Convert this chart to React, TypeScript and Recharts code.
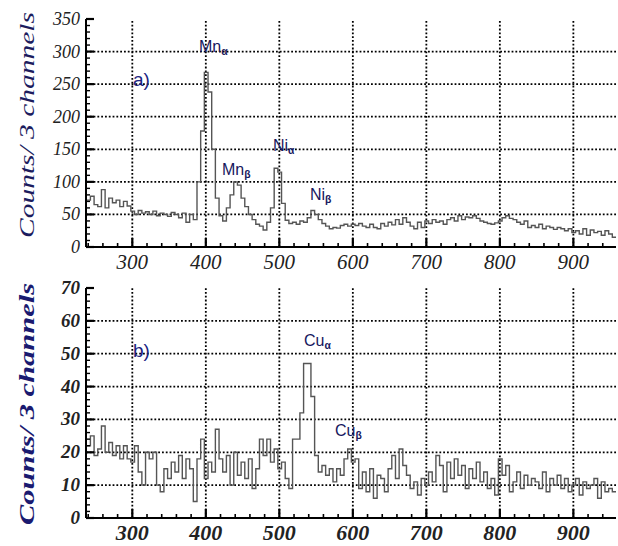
import React from 'react';
import { LineChart, Line, XAxis, YAxis, ReferenceLine } from 'recharts';

const BIN_START = 238;
const BIN_WIDTH = 5;

// panel a) counts per bin (bins start at 238 channels, 5 channels wide)
const topCounts = [
  72, 78, 65, 62, 88, 60, 75, 68, 72, 62, 70, 63,
  55, 50, 56, 52, 54, 50, 55, 48, 52, 50, 47, 53,
  50, 45, 52, 38, 50, 42, 100, 178, 268, 238, 150, 75,
  48, 40, 60, 80, 100, 95, 75, 62, 50, 42, 35, 32,
  26, 38, 60, 121, 115, 67, 41, 36, 38, 35, 40, 38,
  45, 56, 50, 42, 36, 32, 28, 30, 29, 33, 35, 32,
  35, 33, 36, 32, 30, 35, 30, 28, 36, 32, 38, 34,
  42, 35, 45, 38, 32, 28, 38, 30, 40, 36, 42, 38,
  40, 35, 42, 45, 40, 48, 42, 46, 45, 48, 44, 40,
  38, 36, 35, 37, 40, 45, 48, 44, 42, 38, 35, 40,
  30, 33, 30, 35, 28, 32, 30, 27, 30, 28, 25, 28,
  22, 25, 20, 28, 18, 26, 22, 24, 18, 25, 20, 15,
];

// panel b) counts per bin
const bottomCounts = [
  22, 25, 19, 21, 28, 20, 23, 19, 22, 18, 22, 18,
  17, 22, 14, 10, 20, 18, 20, 10, 8, 15, 12, 17,
  14, 19, 12, 18, 15, 5, 18, 24, 12, 17, 14, 27,
  18, 14, 19, 10, 20, 13, 17, 12, 18, 9, 15, 24,
  19, 24, 17, 21, 15, 17, 12, 9, 24, 24, 32, 47,
  47, 37, 19, 14, 16, 13, 15, 11, 15, 13, 18, 21,
  17, 18, 9, 14, 8, 15, 6, 13, 12, 8, 15, 19,
  12, 21, 16, 13, 9, 11, 7, 12, 10, 14, 11, 19,
  16, 8, 17, 12, 18, 13, 16, 9, 15, 12, 17, 11,
  14, 9, 12, 7, 18, 13, 16, 8, 11, 14, 9, 13,
  10, 12, 11, 9, 14, 8, 12, 10, 13, 9, 12, 8,
  10, 12, 7, 11, 9, 10, 12, 6, 11, 8, 9, 8,
];

const xLabels = [300, 400, 500, 600, 700, 800, 900];
const xTicks = [
  240, 260, 280, 300, 320, 340, 360, 380, 400, 420, 440, 460, 480, 500, 520, 540, 560, 580,
  600, 620, 640, 660, 680, 700, 720, 740, 760, 780, 800, 820, 840, 860, 880, 900, 920, 940,
];
const topYLabels = [0, 50, 100, 150, 200, 250, 300, 350];
const bottomYLabels = [0, 10, 20, 30, 40, 50, 60, 70];

const X_DOMAIN: [number, number] = [237, 958];

function range(a: number, b: number, s: number) {
  const out: number[] = [];
  for (let v = a; v <= b + 1e-9; v += s) out.push(v);
  return out;
}

function toRows(counts: number[]) {
  const rows = counts.map((c, i) => ({ ch: BIN_START + i * BIN_WIDTH, v: c }));
  rows.push({ ch: BIN_START + counts.length * BIN_WIDTH, v: counts[counts.length - 1] });
  return rows;
}

const SERIF = '"Liberation Serif", "DejaVu Serif", serif';
const SANS = '"Liberation Sans", Arial, sans-serif';
const NAVY = '#17175e';

type PanelProps = {
  counts: number[];
  yMax: number;
  yMinorStep: number;
  yLabels: number[];
  height: number;
  marginTop: number;
  xAxisHeight: number;
  bold: boolean;
};

function Panel(p: PanelProps) {
  const data = toRows(p.counts);
  const yTicks = range(0, p.yMax, p.yMinorStep);
  const yMajor = p.yLabels[1] - p.yLabels[0];
  const isYMajor = (v: number) => Math.abs(v / yMajor - Math.round(v / yMajor)) < 1e-6;
  const isXMajor = (v: number) => v % 100 === 0;
  const weight = p.bold ? 'bold' : 'normal';

  const bottomTick = (t: any) => {
    const v = t.payload.value;
    const maj = isXMajor(v);
    return (
      <g>
        <line x1={t.x} x2={t.x} y1={t.y} y2={t.y - (maj ? 9 : 4)} stroke="#000" strokeWidth={maj ? 2.2 : 1.6} />
        {maj && (
          <text x={t.x} y={t.y + 22} textAnchor="middle" fontFamily={SERIF} fontStyle="italic"
            fontWeight={weight} fontSize={p.bold ? 22 : 21} fill="#222">{v}</text>
        )}
      </g>
    );
  };
  const topTick = (t: any) => {
    const v = t.payload.value;
    const maj = isXMajor(v);
    return <line x1={t.x} x2={t.x} y1={t.y} y2={t.y + (maj ? 9 : 4)} stroke="#000" strokeWidth={maj ? 2.2 : 1.6} />;
  };
  const leftTick = (t: any) => {
    const v = t.payload.value;
    const maj = isYMajor(v);
    return (
      <g>
        <line x1={t.x} x2={t.x + (maj ? 8 : 4)} y1={t.y} y2={t.y} stroke="#000" strokeWidth={maj ? 2.2 : 1.4} />
        {maj && (
          <text x={t.x - 6} y={t.y + 6} textAnchor="end" fontFamily={SERIF} fontStyle="italic"
            fontWeight={weight} fontSize={p.bold ? 19 : 18} fill="#222">{v}</text>
        )}
      </g>
    );
  };
  const rightTick = (t: any) => {
    const v = t.payload.value;
    const maj = isYMajor(v);
    return <line x1={t.x} x2={t.x - (maj ? 8 : 4)} y1={t.y} y2={t.y} stroke="#000" strokeWidth={maj ? 2.2 : 1.4} />;
  };

  const gridX = xLabels;
  const gridY = p.yLabels.slice(1, -1);

  return (
    <LineChart width={618} height={p.height} data={data}
      margin={{ top: p.marginTop, right: 2, bottom: 0, left: 0 }}>
      <XAxis xAxisId="b" dataKey="ch" type="number" domain={X_DOMAIN} allowDataOverflow
        ticks={xTicks} interval={0} tickSize={0} tickMargin={0} tickLine={false}
        height={p.xAxisHeight} axisLine={{ stroke: '#000', strokeWidth: 2 }} tick={bottomTick} />
      <XAxis xAxisId="t" orientation="top" dataKey="ch" type="number" domain={X_DOMAIN} allowDataOverflow
        ticks={xTicks} interval={0} tickSize={0} tickMargin={0} tickLine={false}
        height={0} axisLine={{ stroke: '#000', strokeWidth: 2 }} tick={topTick} />
      <YAxis yAxisId="l" type="number" domain={[0, p.yMax]} allowDataOverflow ticks={yTicks}
        interval={0} tickSize={0} tickMargin={0} tickLine={false} width={86}
        axisLine={{ stroke: '#000', strokeWidth: 2 }} tick={leftTick} />
      <YAxis yAxisId="r" orientation="right" type="number" domain={[0, p.yMax]} allowDataOverflow ticks={yTicks}
        interval={0} tickSize={0} tickMargin={0} tickLine={false} width={0}
        axisLine={{ stroke: '#000', strokeWidth: 2 }} tick={rightTick} />
      {gridX.map((g) => (
        <ReferenceLine key={'x' + g} x={g} xAxisId="b" yAxisId="l" stroke="#000"
          strokeWidth={1.8} strokeDasharray="1.8 2" />
      ))}
      {gridY.map((g) => (
        <ReferenceLine key={'y' + g} y={g} xAxisId="b" yAxisId="l" stroke="#000"
          strokeWidth={1.8} strokeDasharray="1.8 2" />
      ))}
      <Line xAxisId="b" yAxisId="l" dataKey="v" type="stepAfter" stroke="#555" strokeWidth={1.4}
        dot={false} isAnimationActive={false} />
    </LineChart>
  );
}

function Peak({ x, y, base, sub, size = 16 }: { x: number; y: number; base: string; sub: string; size?: number }) {
  return (
    <text x={x} y={y} fontFamily={SANS} fontSize={size} fill={NAVY}>
      {base}
      <tspan fontSize={size * 0.65} dy={3} fontWeight="bold">{sub}</tspan>
    </text>
  );
}

export default function App() {
  return (
    <div style={{ position: 'absolute', left: 0, top: 0, width: 618, height: 546, background: '#fff' }}>
      <div style={{ position: 'absolute', left: 0, top: 0 }}>
        <Panel counts={topCounts} yMax={350} yMinorStep={10} yLabels={topYLabels}
          height={278} marginTop={19} xAxisHeight={31} bold={false} />
      </div>
      <div style={{ position: 'absolute', left: 0, top: 278 }}>
        <Panel counts={bottomCounts} yMax={70} yMinorStep={2} yLabels={bottomYLabels}
          height={268} marginTop={10} xAxisHeight={28} bold={true} />
      </div>
      <svg width={618} height={546} style={{ position: 'absolute', left: 0, top: 0, pointerEvents: 'none' }}>
        <text transform="translate(34,125) rotate(-90)" textAnchor="middle" fontFamily={SERIF}
          fontStyle="italic" fontSize={22} fill="#1c1c5e" textLength={226} lengthAdjust="spacingAndGlyphs">
          Counts/ 3 channels
        </text>
        <text transform="translate(34,404) rotate(-90)" textAnchor="middle" fontFamily={SERIF}
          fontStyle="italic" fontWeight="bold" fontSize={22} fill="#1a1a70" textLength={242} lengthAdjust="spacingAndGlyphs">
          Counts/ 3 channels
        </text>
        <text x={133} y={86} fontFamily={SANS} fontSize={19} fill="#1a2380">a)</text>
        <text x={133} y={357} fontFamily={SANS} fontSize={19} fill="#1a2380">b)</text>
        <Peak x={199} y={52} base="Mn" sub="α" />
        <Peak x={222} y={175} base="Mn" sub="β" />
        <Peak x={273} y={151} base="Ni" sub="α" />
        <Peak x={310} y={200} base="Ni" sub="β" />
        <Peak x={304} y={346} base="Cu" sub="α" />
        <Peak x={335} y={436} base="Cu" sub="β" />
      </svg>
    </div>
  );
}
